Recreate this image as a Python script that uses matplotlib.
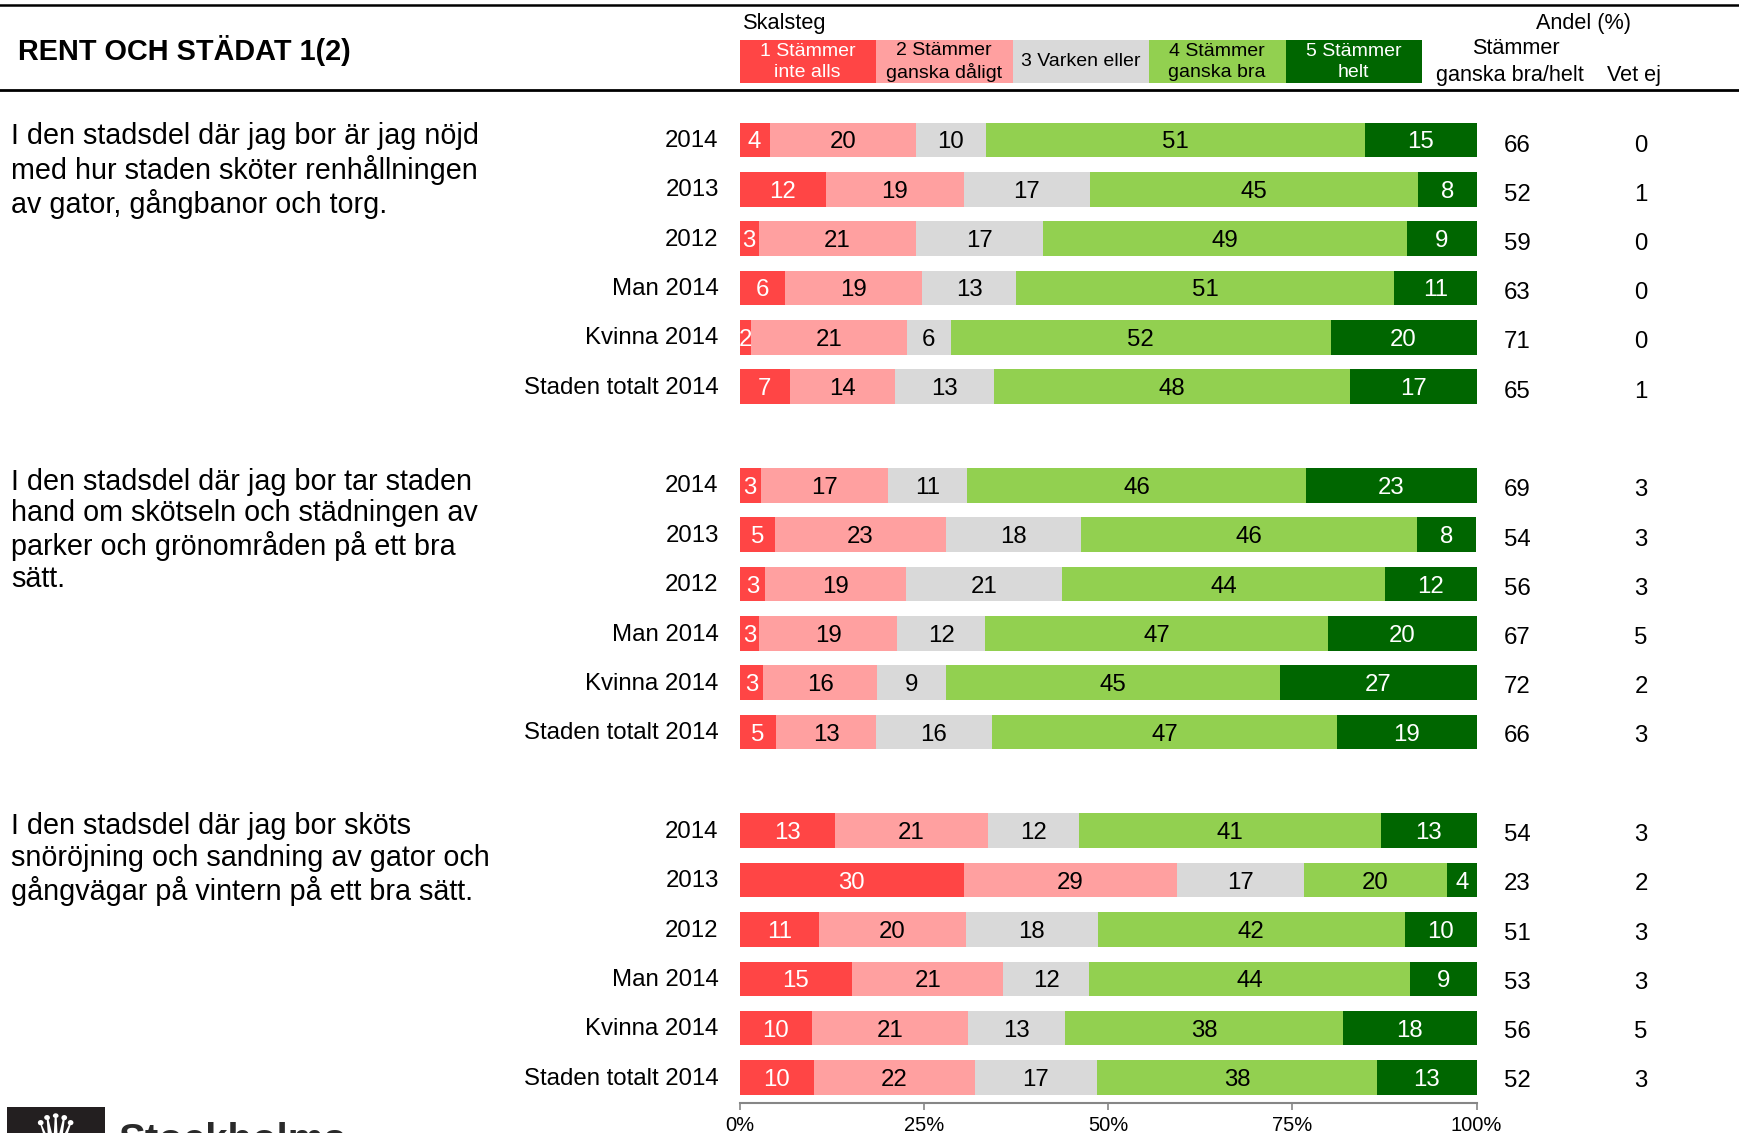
import numpy as np
import matplotlib
matplotlib.use('Agg')
import matplotlib.pyplot as plt
from matplotlib.patches import Rectangle
from matplotlib.transforms import ScaledTranslation

plt.rcParams['font.family'] = ['Liberation Sans', 'DejaVu Sans']

W, H = 1739, 1133

row_names = ['2014', '2013', '2012', 'Man 2014', 'Kvinna 2014', 'Staden totalt 2014']
questions = [
    'I den stadsdel där jag bor är jag nöjd\nmed hur staden sköter renhållningen\nav gator, gångbanor och torg.',
    'I den stadsdel där jag bor tar staden\nhand om skötseln och städningen av\nparker och grönområden på ett bra\nsätt.',
    'I den stadsdel där jag bor sköts\nsnöröjning och sandning av gator och\ngångvägar på vintern på ett bra sätt.',
]
scale_labels = ['1 Stämmer\ninte alls', '2 Stämmer\nganska dåligt', '3 Varken eller',
                '4 Stämmer\nganska bra', '5 Stämmer\nhelt']
colors = ['#FF4545', '#FFA0A0', '#D9D9D9', '#92D050', '#006600']
text_colors = ['white', 'black', 'black', 'black', 'white']

# printed numbers
labels1 = [[4, 20, 10, 51, 15], [12, 19, 17, 45, 8], [3, 21, 17, 49, 9],
           [6, 19, 13, 51, 11], [2, 21, 6, 52, 20], [7, 14, 13, 48, 17]]
labels2 = [[3, 17, 11, 46, 23], [5, 23, 18, 46, 8], [3, 19, 21, 44, 12],
           [3, 19, 12, 47, 20], [3, 16, 9, 45, 27], [5, 13, 16, 47, 19]]
labels3 = [[13, 21, 12, 41, 13], [30, 29, 17, 20, 4], [11, 20, 18, 42, 10],
           [15, 21, 12, 44, 9], [10, 21, 13, 38, 18], [10, 22, 17, 38, 13]]

# segment lengths (unrounded shares)
shares1 = [[4.1, 19.8, 9.5, 51.5, 15.1], [11.7, 18.7, 17.2, 44.5, 7.9], [2.6, 21.3, 17.3, 49.4, 9.4],
           [6.2, 18.6, 12.7, 51.3, 11.2], [1.5, 21.2, 6.0, 51.5, 19.8], [6.8, 14.3, 13.4, 48.4, 17.1]]
shares2 = [[2.9, 17.3, 10.7, 46.0, 23.1], [4.8, 23.2, 18.4, 45.5, 8.1], [3.5, 19.1, 21.2, 43.8, 12.4],
           [2.7, 18.7, 11.9, 46.6, 20.1], [3.2, 15.5, 9.3, 45.4, 26.6], [5.0, 13.5, 15.7, 46.9, 18.9]]
shares3 = [[12.9, 20.8, 12.3, 41.0, 13.0], [30.4, 28.9, 17.3, 19.4, 4.0], [10.8, 19.9, 17.9, 41.7, 9.7],
           [15.3, 20.5, 11.6, 43.6, 9.0], [9.8, 21.2, 13.2, 37.7, 18.1], [10.1, 21.8, 16.6, 38.0, 13.5]]

agree = [66, 52, 59, 63, 71, 65, 69, 54, 56, 67, 72, 66, 54, 23, 51, 53, 56, 52]
dont_know = [0, 1, 0, 0, 0, 1, 3, 3, 3, 5, 2, 3, 3, 2, 3, 3, 5, 3]
pct_ticks = [0, 25, 50, 75, 100]

fig = plt.figure(figsize=(W / 100, H / 100), dpi=100)

# overlay in pixel coordinates for the header, questions and logo
bg = fig.add_axes([0, 0, 1, 1])
bg.set_xlim(0, W)
bg.set_ylim(H, 0)
bg.axis('off')

# bars axes
x0, x1, y_top, y_bot = 739.5, 1476.5, 90, 1102.5
ax = fig.add_axes([x0 / W, 1 - y_bot / H, (x1 - x0) / W, (y_bot - y_top) / H])
ax.patch.set_alpha(0)
pitch = 49.34
ax.set_xlim(0, 100)
ax.set_ylim((y_bot - 140) / pitch, (y_top - 140) / pitch)

ypos = [g * 7 + i for g in range(3) for i in range(6)]
labels = np.array(labels1 + labels2 + labels3)
shares = np.array(shares1 + shares2 + shares3)
left = np.zeros(len(ypos))
for k in range(5):
    ax.barh(ypos, shares[:, k], left=left, height=0.7, color=colors[k])
    for y, l, w, v in zip(ypos, left, shares[:, k], labels[:, k]):
        ax.text(l + w / 2, y + 0.05, str(v), ha='center', va='center',
                fontsize=17.3, color=text_colors[k])
    left += shares[:, k]

for s in ['top', 'left', 'right']:
    ax.spines[s].set_visible(False)
ax.spines['bottom'].set_color('#868686')
ax.spines['bottom'].set_linewidth(1.5)
ax.set_xticks(pct_ticks)
ax.set_xticklabels([f'{t}%' for t in pct_ticks], fontsize=14.5)
ax.tick_params(axis='x', length=5, width=1.2, color='#868686', pad=5)
ax.set_yticks(ypos)
ax.set_yticklabels(row_names * 3, fontsize=17.3)
ax.tick_params(axis='y', length=0, pad=15)
for t in ax.get_yticklabels():
    t.set_transform(t.get_transform() + ScaledTranslation(0, 1 / 72, fig.dpi_scale_trans))

# right hand columns
for y, a, d in zip(ypos, agree, dont_know):
    py = 145.5 + 49.25 * y
    bg.text(1517, py, str(a), ha='center', va='center', fontsize=17.3)
    bg.text(1641, py, str(d), ha='center', va='center', fontsize=17.3)

# header
bg.plot([0, W], [5, 5], color='black', lw=1.8)
bg.plot([0, W], [89.5, 89.5], color='black', lw=2)
bg.text(18, 50, 'RENT OCH STÄDAT 1(2)', fontsize=20.8, fontweight='bold', va='center')
bg.text(743, 24, 'Skalsteg', fontsize=15.7, va='center')
bg.text(1584, 24, 'Andel (%)', fontsize=15.6, va='center', ha='center')
bg.text(1516, 49, 'Stämmer', fontsize=15.6, va='center', ha='center')
bg.text(1510, 75, 'ganska bra/helt', fontsize=15.6, va='center', ha='center')
bg.text(1634, 75, 'Vet ej', fontsize=15.6, va='center', ha='center')

box_w = (1422 - x0) / 5
for k, lab in enumerate(scale_labels):
    bx = x0 + k * box_w
    bg.add_patch(Rectangle((bx, 39.5), box_w, 43.5, color=colors[k], lw=0))
    bg.text(bx + box_w / 2, 62, lab, ha='center', va='center', fontsize=14,
            color=text_colors[k], linespacing=1.33)

for q, qy in zip(questions, [122.5, 467.5, 812.5]):
    bg.text(11, qy, q, fontsize=20.7, va='top', ha='left', linespacing=1.17)

# logo, cut off by the lower edge of the picture
bg.add_patch(Rectangle((7, 1107), 98, 30, color='#231f20', lw=0))
bg.text(55, 1137, '♛', family='DejaVu Sans', fontsize=38, color='white', ha='center', va='center')
bg.text(119, 1152.5, 'Stockholms', fontsize=29, fontweight='bold', color='#2a2a2a', va='baseline')

fig.savefig('out.png', dpi=100)
